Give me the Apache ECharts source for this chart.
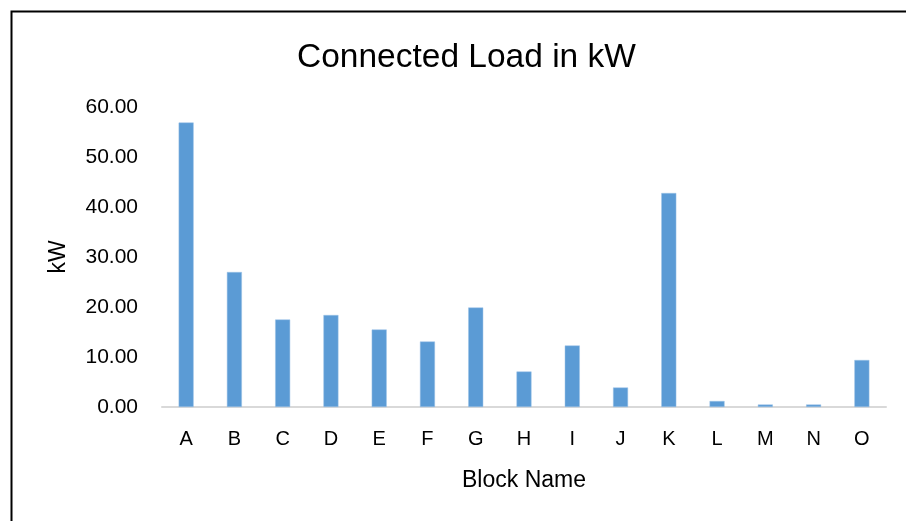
<!DOCTYPE html>
<html><head><meta charset="utf-8">
<script src="https://cdn.jsdelivr.net/npm/echarts@6/dist/echarts.min.js"></script>
<style>html,body{margin:0;padding:0;background:#fff}#c{width:906px;height:521px}</style>
</head><body><div id="c"></div>
<script>
const categories = ['A','B','C','D','E','F','G','H','I','J','K','L','M','N','O'];
const loadKW = [56.9, 27.0, 17.5, 18.4, 15.5, 13.1, 19.9, 7.1, 12.3, 3.9, 42.8, 1.2, 0.5, 0.5, 9.4];
const yTicks = { min: 0, max: 60, interval: 10 };
const FONT = "'Liberation Sans', sans-serif";
const chart = echarts.init(document.getElementById('c'), null, {renderer:'canvas'});
chart.setOption({
  backgroundColor: '#fff',
  animation: false,
  title: { text: 'Connected Load in kW', left: 292, top: 36,
    textStyle: { fontFamily: FONT, fontSize: 33.5, fontWeight: 'normal', color: '#000' } },
  graphic: [{ type: 'rect', left: 9, top: 9, shape: { width: 1000, height: 600 },
    style: { fill: 'none', stroke: '#000', lineWidth: 2 } }],
  grid: { left: 162, right: 20, top: 107, bottom: 114 },
  xAxis: { type: 'category', data: categories, name: 'Block Name', nameLocation: 'middle', nameGap: 62,
    nameTextStyle: { fontFamily: FONT, fontSize: 23, color: '#000' },
    axisLine: { lineStyle: { color: '#d9d9d9', width: 2 } }, axisTick: { show: false },
    axisLabel: { fontFamily: FONT, fontSize: 20, color: '#000', margin: 22 } },
  yAxis: { type: 'value', min: yTicks.min, max: yTicks.max, interval: yTicks.interval,
    name: 'kW', nameLocation: 'middle', nameGap: 92, nameRotate: 90,
    nameTextStyle: { fontFamily: FONT, fontSize: 23, color: '#000' },
    splitLine: { show: false }, axisLine: { show: false }, axisTick: { show: false },
    axisLabel: { fontFamily: FONT, fontSize: 21, color: '#000', margin: 24, formatter: v => v.toFixed(2) } },
  series: [{ type: 'bar', data: loadKW, barWidth: 15,
    itemStyle: { color: '#5B9BD5', borderColor: '#9DC3E6', borderWidth: 0.5 } }]
});
</script></body></html>
